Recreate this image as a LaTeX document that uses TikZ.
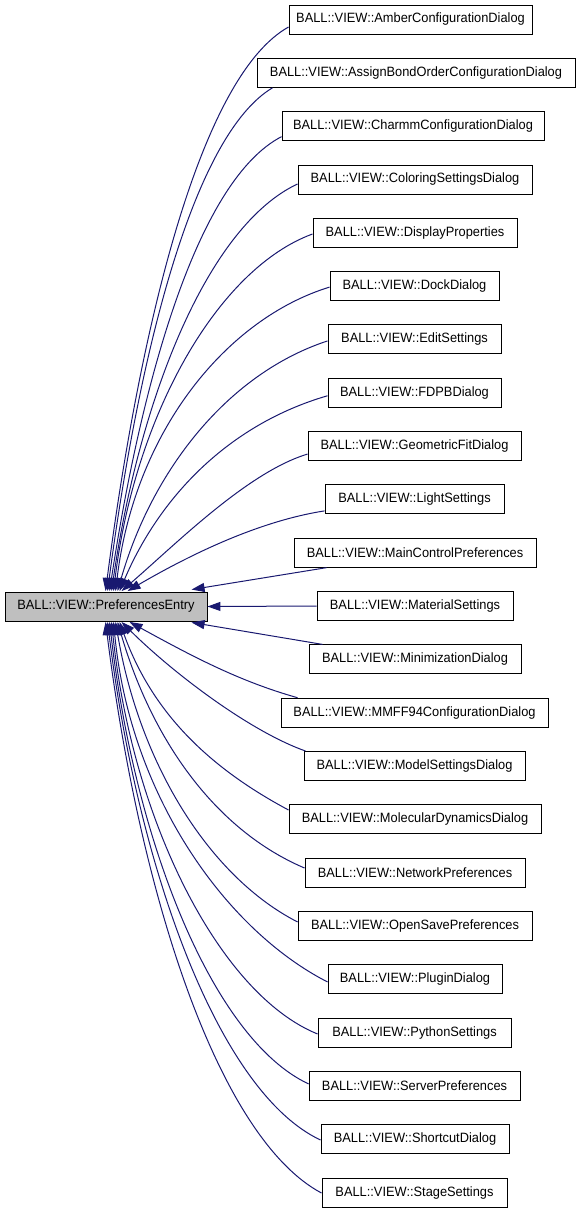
\documentclass[tikz,border=0pt]{standalone}
\usepackage{fontspec}
\newfontfamily\dfont{Liberation Sans}[FakeStretch=0.95]
\usetikzlibrary{arrows.meta,calc}
\definecolor{edgeblue}{RGB}{25,25,112}
\definecolor{maingray}{RGB}{191,191,191}
\begin{document}
\begin{tikzpicture}[x=1pt,y=-1pt,
  box/.style={draw=black, line width=0.9pt, minimum height=29pt, inner sep=0pt,
    font=\dfont\fontsize{13.5}{16}\selectfont, anchor=center},
  edge/.style={color=edgeblue, line width=1pt, -{Triangle[length=13pt,width=9pt]}},
]
\useasboundingbox (0,0) rectangle (579,1213);
\node[box, fill=maingray, minimum width=202pt] (main) at (106,606.5) {BALL::VIEW::PreferencesEntry};
\node[box, minimum width=243pt] (n0) at (410.5,19.5) {BALL::VIEW::AmberConfigurationDialog};
\node[box, minimum width=318pt] (n1) at (416,72.82) {BALL::VIEW::AssignBondOrderConfigurationDialog};
\node[box, minimum width=262pt] (n2) at (413,126.14) {BALL::VIEW::CharmmConfigurationDialog};
\node[box, minimum width=234pt] (n3) at (415,179.46) {BALL::VIEW::ColoringSettingsDialog};
\node[box, minimum width=204pt] (n4) at (415,232.78) {BALL::VIEW::DisplayProperties};
\node[box, minimum width=169pt] (n5) at (414.5,286.1) {BALL::VIEW::DockDialog};
\node[box, minimum width=173pt] (n6) at (414.5,339.42) {BALL::VIEW::EditSettings};
\node[box, minimum width=173pt] (n7) at (414.5,392.74) {BALL::VIEW::FDPBDialog};
\node[box, minimum width=213pt] (n8) at (414.5,446.06) {BALL::VIEW::GeometricFitDialog};
\node[box, minimum width=179pt] (n9) at (414.5,499.38) {BALL::VIEW::LightSettings};
\node[box, minimum width=242pt] (n10) at (415,552.7) {BALL::VIEW::MainControlPreferences};
\node[box, minimum width=196pt] (n11) at (415,606.02) {BALL::VIEW::MaterialSettings};
\node[box, minimum width=212pt] (n12) at (415,659.34) {BALL::VIEW::MinimizationDialog};
\node[box, minimum width=267pt] (n13) at (414.5,712.66) {BALL::VIEW::MMFF94ConfigurationDialog};
\node[box, minimum width=221pt] (n14) at (414.5,765.98) {BALL::VIEW::ModelSettingsDialog};
\node[box, minimum width=252pt] (n15) at (415,819.3) {BALL::VIEW::MolecularDynamicsDialog};
\node[box, minimum width=220pt] (n16) at (415,872.62) {BALL::VIEW::NetworkPreferences};
\node[box, minimum width=234pt] (n17) at (415,925.94) {BALL::VIEW::OpenSavePreferences};
\node[box, minimum width=174pt] (n18) at (415,979.26) {BALL::VIEW::PluginDialog};
\node[box, minimum width=193pt] (n19) at (414.5,1032.58) {BALL::VIEW::PythonSettings};
\node[box, minimum width=211pt] (n20) at (414.5,1085.9) {BALL::VIEW::ServerPreferences};
\node[box, minimum width=188pt] (n21) at (415,1139.22) {BALL::VIEW::ShortcutDialog};
\node[box, minimum width=185pt] (n22) at (414.5,1192.54) {BALL::VIEW::StageSettings};
% upper edges
\draw[edge] ($(n0.west)+(0,7.5)$) .. controls (201.2,75.7) and (140.8,320.3) .. ($(main.north west)+(101,-0.5)$);
\draw[edge] ($(n1.south west)+(16,0)$) .. controls (193.8,134.7) and (139.4,350) .. ($(main.north west)+(103,-0.5)$);
\draw[edge] ($(n2.west)+(0,10.5)$) .. controls (199.4,179.1) and (142.7,373.1) .. ($(main.north west)+(105,-0.5)$);
\draw[edge] ($(n3.west)+(0,4.5)$) .. controls (208.7,225.6) and (140,395) .. ($(main.north west)+(107,-0.5)$);
\draw[edge] ($(n4.west)+(0,1.2)$) .. controls (217.5,268.8) and (135,415) .. ($(main.north west)+(109,-0.5)$);
\draw[edge] ($(n5.west)+(0,1)$) .. controls (227.3,318.4) and (135,430) .. ($(main.north west)+(111,-0.5)$);
\draw[edge] ($(n6.west)+(0,1.5)$) .. controls (227.2,373.8) and (152,471) .. ($(main.north west)+(113,-0.5)$);
\draw[edge] ($(n7.west)+(0,3)$) .. controls (228.2,424.6) and (159.5,497.4) .. ($(main.north west)+(115,-0.5)$);
\draw[edge] ($(n8.west)+(0,8)$) .. controls (248,472) and (177,543) .. ($(main.north west)+(117,-0.5)$);
\draw[edge] ($(n9.west)+(0,11.5)$) .. controls (260,521) and (193,553) .. ($(main.north west)+(123,-0.5)$);
\draw[edge] ($(n10.south west)+(33,0)$) -- ($(main.north west)+(187,-2)$);
\draw[edge] (n11.west) -- (main.east);
\draw[edge] ($(n12.north west)+(14,0)$) -- ($(main.south west)+(187,1)$);
% lower edges
\draw[edge] ($(n13.north west)+(17,0)$) .. controls (238,681) and (190,655) .. ($(main.south west)+(125,0.5)$);
\draw[edge] ($(n14.north west)+(2,0)$) .. controls (249,731) and (172,672) .. ($(main.south west)+(117,0.5)$);
\draw[edge] ($(n15.west)+(0,-9.3)$) .. controls (208,767) and (152,712) .. ($(main.south west)+(115,0.5)$);
\draw[edge] ($(n16.west)+(0,-4.6)$) .. controls (215.2,830) and (152,740) .. ($(main.south west)+(113,0.5)$);
\draw[edge] ($(n17.west)+(0,-4)$) .. controls (210.6,877.5) and (140,766) .. ($(main.south west)+(111,0.5)$);
\draw[edge] ($(n18.west)+(0,2.7)$) .. controls (225.3,929.7) and (130,795) .. ($(main.south west)+(109,0.5)$);
\draw[edge] ($(n19.west)+(0,1.4)$) .. controls (219.1,994) and (132,820) .. ($(main.south west)+(107,0.5)$);
\draw[edge] ($(n20.west)+(0,-2)$) .. controls (213.5,1039.5) and (135,844) .. ($(main.south west)+(105,0.5)$);
\draw[edge] ($(n21.west)+(0,0.8)$) .. controls (218.8,1092.3) and (138,870) .. ($(main.south west)+(103,0.5)$);
\draw[edge] ($(n22.west)+(0,0.5)$) .. controls (218.3,1138) and (140,896) .. ($(main.south west)+(101,0.5)$);
\end{tikzpicture}
\end{document}
